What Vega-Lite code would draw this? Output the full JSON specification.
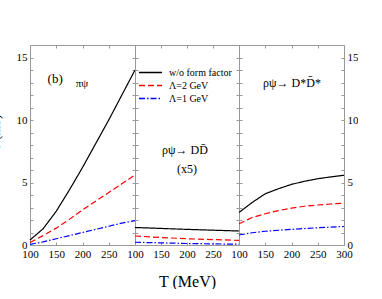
{
  "$schema": "https://vega.github.io/schema/vega-lite/v6.json",
  "padding": {"left": -11, "top": 44, "right": 0, "bottom": 0},
  "spacing": 0,
  "bounds": "flush",
  "datasets": {
    "curves": [
      {"panel": 1, "series": "w/o form factor", "T": 100, "v": 0.4},
      {"panel": 1, "series": "w/o form factor", "T": 125, "v": 1.3},
      {"panel": 1, "series": "w/o form factor", "T": 150, "v": 2.7},
      {"panel": 1, "series": "w/o form factor", "T": 175, "v": 4.4},
      {"panel": 1, "series": "w/o form factor", "T": 200, "v": 6.2},
      {"panel": 1, "series": "w/o form factor", "T": 225, "v": 8.1},
      {"panel": 1, "series": "w/o form factor", "T": 250, "v": 10.0},
      {"panel": 1, "series": "w/o form factor", "T": 275, "v": 12.0},
      {"panel": 1, "series": "w/o form factor", "T": 300, "v": 14.0},
      {"panel": 1, "series": "Λ=2 GeV", "T": 100, "v": 0.2},
      {"panel": 1, "series": "Λ=2 GeV", "T": 125, "v": 0.75},
      {"panel": 1, "series": "Λ=2 GeV", "T": 150, "v": 1.35},
      {"panel": 1, "series": "Λ=2 GeV", "T": 175, "v": 2.05},
      {"panel": 1, "series": "Λ=2 GeV", "T": 200, "v": 2.8},
      {"panel": 1, "series": "Λ=2 GeV", "T": 225, "v": 3.5},
      {"panel": 1, "series": "Λ=2 GeV", "T": 250, "v": 4.2},
      {"panel": 1, "series": "Λ=2 GeV", "T": 275, "v": 4.9},
      {"panel": 1, "series": "Λ=2 GeV", "T": 300, "v": 5.6},
      {"panel": 1, "series": "Λ=1 GeV", "T": 100, "v": 0.05},
      {"panel": 1, "series": "Λ=1 GeV", "T": 125, "v": 0.25},
      {"panel": 1, "series": "Λ=1 GeV", "T": 150, "v": 0.5},
      {"panel": 1, "series": "Λ=1 GeV", "T": 175, "v": 0.75},
      {"panel": 1, "series": "Λ=1 GeV", "T": 200, "v": 1.0},
      {"panel": 1, "series": "Λ=1 GeV", "T": 225, "v": 1.25},
      {"panel": 1, "series": "Λ=1 GeV", "T": 250, "v": 1.5},
      {"panel": 1, "series": "Λ=1 GeV", "T": 275, "v": 1.75},
      {"panel": 1, "series": "Λ=1 GeV", "T": 300, "v": 1.95},
      {"panel": 2, "series": "w/o form factor", "T": 100, "v": 1.4},
      {"panel": 2, "series": "w/o form factor", "T": 200, "v": 1.25},
      {"panel": 2, "series": "w/o form factor", "T": 300, "v": 1.12},
      {"panel": 2, "series": "Λ=2 GeV", "T": 100, "v": 0.72},
      {"panel": 2, "series": "Λ=2 GeV", "T": 150, "v": 0.6},
      {"panel": 2, "series": "Λ=2 GeV", "T": 200, "v": 0.5},
      {"panel": 2, "series": "Λ=2 GeV", "T": 250, "v": 0.43},
      {"panel": 2, "series": "Λ=2 GeV", "T": 300, "v": 0.37},
      {"panel": 2, "series": "Λ=1 GeV", "T": 100, "v": 0.22},
      {"panel": 2, "series": "Λ=1 GeV", "T": 200, "v": 0.12},
      {"panel": 2, "series": "Λ=1 GeV", "T": 300, "v": 0.06},
      {"panel": 3, "series": "w/o form factor", "T": 100, "v": 2.6},
      {"panel": 3, "series": "w/o form factor", "T": 125, "v": 3.4},
      {"panel": 3, "series": "w/o form factor", "T": 150, "v": 4.1},
      {"panel": 3, "series": "w/o form factor", "T": 175, "v": 4.5},
      {"panel": 3, "series": "w/o form factor", "T": 200, "v": 4.85},
      {"panel": 3, "series": "w/o form factor", "T": 225, "v": 5.1},
      {"panel": 3, "series": "w/o form factor", "T": 250, "v": 5.3},
      {"panel": 3, "series": "w/o form factor", "T": 275, "v": 5.45},
      {"panel": 3, "series": "w/o form factor", "T": 300, "v": 5.58},
      {"panel": 3, "series": "Λ=2 GeV", "T": 100, "v": 1.7},
      {"panel": 3, "series": "Λ=2 GeV", "T": 125, "v": 2.2},
      {"panel": 3, "series": "Λ=2 GeV", "T": 150, "v": 2.5},
      {"panel": 3, "series": "Λ=2 GeV", "T": 175, "v": 2.75},
      {"panel": 3, "series": "Λ=2 GeV", "T": 200, "v": 2.95},
      {"panel": 3, "series": "Λ=2 GeV", "T": 225, "v": 3.1},
      {"panel": 3, "series": "Λ=2 GeV", "T": 250, "v": 3.2},
      {"panel": 3, "series": "Λ=2 GeV", "T": 275, "v": 3.28},
      {"panel": 3, "series": "Λ=2 GeV", "T": 300, "v": 3.35},
      {"panel": 3, "series": "Λ=1 GeV", "T": 100, "v": 0.8},
      {"panel": 3, "series": "Λ=1 GeV", "T": 125, "v": 0.98},
      {"panel": 3, "series": "Λ=1 GeV", "T": 150, "v": 1.1},
      {"panel": 3, "series": "Λ=1 GeV", "T": 175, "v": 1.18},
      {"panel": 3, "series": "Λ=1 GeV", "T": 200, "v": 1.25},
      {"panel": 3, "series": "Λ=1 GeV", "T": 225, "v": 1.32},
      {"panel": 3, "series": "Λ=1 GeV", "T": 250, "v": 1.38},
      {"panel": 3, "series": "Λ=1 GeV", "T": 275, "v": 1.43},
      {"panel": 3, "series": "Λ=1 GeV", "T": 300, "v": 1.48}
    ],
    "notes": [
      {"panel": 1, "T": 148, "v": 13.3, "label": "(b)", "size": 13, "style": "normal"},
      {"panel": 1, "T": 199, "v": 12.9, "label": "πψ", "size": 11, "style": "italic"},
      {"panel": 2, "T": 196, "v": 7.6, "label": "ρψ→ DD̄", "size": 12, "style": "normal"},
      {"panel": 2, "T": 200, "v": 6.1, "label": "(x5)", "size": 12, "style": "normal"},
      {"panel": 3, "T": 201, "v": 13.0, "label": "ρψ→ D*D̄*", "size": 12, "style": "normal"}
    ]
  },
  "hconcat": [
    {
      "width": 105, "height": 200,
      "layer": [
        {
          "data": {"name": "curves"},
          "transform": [{"filter": "datum.panel == 1"}],
          "mark": {"type": "line", "strokeWidth": 1.2},
          "encoding": {
            "x": {"field": "T", "type": "quantitative", "scale": {"domain": [100, 300]},
                  "axis": {"orient": "bottom", "values": [100, 150, 200, 250, 300], "title": null, "labelExpr": "datum.value == 300 ? '' : datum.label", "labelFlush": false, "labelOverlap": false}},
            "y": {"field": "v", "type": "quantitative", "scale": {"domain": [0, 15]},
                  "axis": {"orient": "left", "values": [0,1,2,3,4,5,6,7,8,9,10,11,12,13,14,15], "labelExpr": "datum.value % 5 == 0 ? datum.label : ''", "title": "σ (mb)", "titleX": -28, "titleY": 87, "titleAngle": -90, "titleBaseline": "bottom", "titleFontSize": 13, "titleFontWeight": "normal"}},
            "color": {"field": "series", "type": "nominal", "scale": {"domain": ["w/o form factor", "Λ=2 GeV", "Λ=1 GeV"], "range": ["#000000", "#ff0000", "#0000ff"]}, "legend": null},
            "strokeDash": {"field": "series", "type": "nominal", "scale": {"domain": ["w/o form factor", "Λ=2 GeV", "Λ=1 GeV"], "range": [[1, 0], [6, 3], [6, 2, 1.5, 2]]}, "legend": null}
          }
        },
        {
          "data": {"name": "curves"},
          "transform": [{"filter": "datum.panel == 1"}],
          "mark": {"type": "line", "opacity": 0},
          "encoding": {
            "x": {"field": "T", "type": "quantitative", "axis": {"orient": "top", "values": [100, 150, 200, 250, 300], "labels": false, "title": null}},
            "y": {"field": "v", "type": "quantitative", "axis": {"orient": "right", "values": [0,1,2,3,4,5,6,7,8,9,10,11,12,13,14,15], "labels": false, "title": null}},
            "detail": {"field": "series"}
          }
        },
        {
          "data": {"name": "notes"},
          "transform": [{"filter": "datum.panel == 1"}],
          "mark": {"type": "text", "font": "Liberation Serif", "baseline": "middle"},
          "encoding": {
            "x": {"field": "T", "type": "quantitative", "axis": null},
            "y": {"field": "v", "type": "quantitative", "axis": null},
            "text": {"field": "label"},
            "size": {"field": "size", "type": "quantitative", "scale": null},
            "fontStyle": {"field": "style", "type": "nominal", "scale": null}
          }
        }
      ],
      "resolve": {"axis": {"x": "independent", "y": "independent"}}
    },
    {
      "width": 104, "height": 200,
      "layer": [
        {
          "data": {"name": "curves"},
          "transform": [{"filter": "datum.panel == 2"}],
          "mark": {"type": "line", "strokeWidth": 1.2},
          "encoding": {
            "x": {"field": "T", "type": "quantitative", "scale": {"domain": [100, 300]},
                  "axis": {"orient": "bottom", "values": [100, 150, 200, 250, 300], "title": "T (MeV)", "titleFontSize": 16, "titleFontWeight": "normal", "titlePadding": 14, "labelExpr": "datum.value == 300 ? '' : datum.label", "labelFlush": false, "labelOverlap": false}},
            "y": {"field": "v", "type": "quantitative", "scale": {"domain": [0, 15]},
                  "axis": {"orient": "left", "values": [0,1,2,3,4,5,6,7,8,9,10,11,12,13,14,15], "labels": false, "title": null}},
            "color": {"field": "series", "type": "nominal", "scale": {"domain": ["w/o form factor", "Λ=2 GeV", "Λ=1 GeV"], "range": ["#000000", "#ff0000", "#0000ff"]},
                      "legend": {"orient": "none", "legendX": 3, "legendY": 21, "title": null, "symbolType": "stroke", "symbolSize": 529, "symbolStrokeWidth": 1.3, "clipHeight": 13, "rowPadding": 0, "labelFont": "Liberation Serif", "labelFontSize": 10, "labelColor": "#000", "labelOffset": 6}},
            "strokeDash": {"field": "series", "type": "nominal", "scale": {"domain": ["w/o form factor", "Λ=2 GeV", "Λ=1 GeV"], "range": [[1, 0], [6, 3], [6, 2, 1.5, 2]]},
                      "legend": {"orient": "none", "legendX": 3, "legendY": 21, "title": null, "symbolType": "stroke", "symbolSize": 529, "symbolStrokeWidth": 1.3, "clipHeight": 13, "rowPadding": 0, "labelFont": "Liberation Serif", "labelFontSize": 10, "labelColor": "#000", "labelOffset": 6}}
          }
        },
        {
          "data": {"name": "curves"},
          "transform": [{"filter": "datum.panel == 2"}],
          "mark": {"type": "line", "opacity": 0},
          "encoding": {
            "x": {"field": "T", "type": "quantitative", "axis": {"orient": "top", "values": [100, 150, 200, 250, 300], "labels": false, "title": null}},
            "y": {"field": "v", "type": "quantitative", "axis": {"orient": "right", "values": [0,1,2,3,4,5,6,7,8,9,10,11,12,13,14,15], "labels": false, "title": null}},
            "detail": {"field": "series"}
          }
        },
        {
          "data": {"name": "notes"},
          "transform": [{"filter": "datum.panel == 2"}],
          "mark": {"type": "text", "font": "Liberation Serif", "baseline": "middle"},
          "encoding": {
            "x": {"field": "T", "type": "quantitative", "axis": null},
            "y": {"field": "v", "type": "quantitative", "axis": null},
            "text": {"field": "label"},
            "size": {"field": "size", "type": "quantitative", "scale": null}
          }
        }
      ],
      "resolve": {"axis": {"x": "independent", "y": "independent"}}
    },
    {
      "width": 105, "height": 200,
      "layer": [
        {
          "data": {"name": "curves"},
          "transform": [{"filter": "datum.panel == 3"}],
          "mark": {"type": "line", "strokeWidth": 1.2},
          "encoding": {
            "x": {"field": "T", "type": "quantitative", "scale": {"domain": [100, 300]},
                  "axis": {"orient": "bottom", "values": [100, 150, 200, 250, 300], "title": null, "labelFlush": false, "labelOverlap": false}},
            "y": {"field": "v", "type": "quantitative", "scale": {"domain": [0, 15]},
                  "axis": {"orient": "left", "values": [0,1,2,3,4,5,6,7,8,9,10,11,12,13,14,15], "labels": false, "title": null}},
            "color": {"field": "series", "type": "nominal", "scale": {"domain": ["w/o form factor", "Λ=2 GeV", "Λ=1 GeV"], "range": ["#000000", "#ff0000", "#0000ff"]}, "legend": null},
            "strokeDash": {"field": "series", "type": "nominal", "scale": {"domain": ["w/o form factor", "Λ=2 GeV", "Λ=1 GeV"], "range": [[1, 0], [6, 3], [6, 2, 1.5, 2]]}, "legend": null}
          }
        },
        {
          "data": {"name": "curves"},
          "transform": [{"filter": "datum.panel == 3"}],
          "mark": {"type": "line", "opacity": 0},
          "encoding": {
            "x": {"field": "T", "type": "quantitative", "axis": {"orient": "top", "values": [100, 150, 200, 250, 300], "labels": false, "title": null}},
            "y": {"field": "v", "type": "quantitative", "axis": {"orient": "right", "values": [0,1,2,3,4,5,6,7,8,9,10,11,12,13,14,15], "labelExpr": "datum.value % 5 == 0 ? datum.label : ''", "labelAlign": "left", "title": null}},
            "detail": {"field": "series"}
          }
        },
        {
          "data": {"name": "notes"},
          "transform": [{"filter": "datum.panel == 3"}],
          "mark": {"type": "text", "font": "Liberation Serif", "baseline": "middle"},
          "encoding": {
            "x": {"field": "T", "type": "quantitative", "axis": null},
            "y": {"field": "v", "type": "quantitative", "axis": null},
            "text": {"field": "label"},
            "size": {"field": "size", "type": "quantitative", "scale": null}
          }
        }
      ],
      "resolve": {"axis": {"x": "independent", "y": "independent"}}
    }
  ],
  "resolve": {"scale": {"color": "independent", "strokeDash": "independent"}},
  "config": {
    "view": {"stroke": null},
    "font": "Liberation Serif",
    "axis": {"grid": false, "domainColor": "#999999", "tickColor": "#999999", "tickSize": -3, "labelFont": "Liberation Serif", "labelFontSize": 11, "labelColor": "#000000", "labelPadding": 6, "titleFont": "Liberation Serif", "titleColor": "#000000"}
  }
}
